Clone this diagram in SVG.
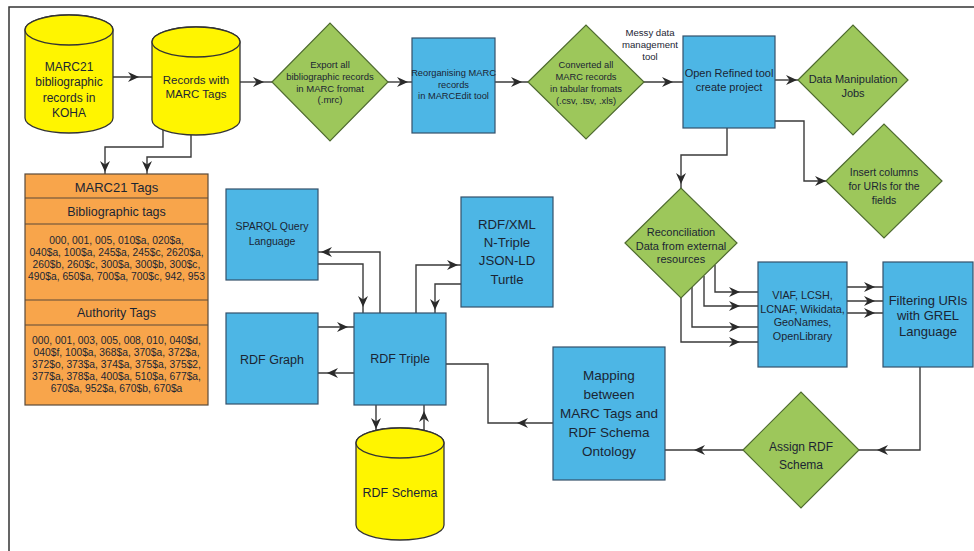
<svg xmlns="http://www.w3.org/2000/svg" xmlns:xlink="http://www.w3.org/1999/xlink" width="974" height="551" viewBox="0 0 974 551">
<style>
.blue{fill:#4DB6E5;stroke:#34506a;stroke-width:1.2}
.green{fill:#9DC75B;stroke:#4f6b30;stroke-width:1.2}
.yel{fill:#FFF500;stroke:#333;stroke-width:1.3}
.org{fill:#F8A54B;stroke:#5a4a3a;stroke-width:1.2}
.div{stroke:#5a4a3a;stroke-width:1.2;fill:none}
text{font-family:"Liberation Sans",Arial,sans-serif;fill:#1b2533;text-anchor:middle}
#connectors path{fill:none;stroke:#3a3a3a;stroke-width:1.4}
</style>
<defs>
<path id="ah" d="M0,0 L-11,-5 L-7.5,0 L-11,5 Z" fill="#2a2a2a"/>
</defs>
<rect x="0" y="0" width="974" height="551" fill="#fff"/>
<path d="M9,551 V7 H974" fill="none" stroke="#333" stroke-width="1.5"/>

<g id="connectors">
<path d="M113,77 H152"/>
<path d="M240,82 H272"/>
<path d="M388,82 H412"/>
<path d="M495,82 H528"/>
<path d="M643,82 H683"/>
<path d="M775,80 H798"/>
<path d="M775,121 H804 V181 H827"/>
<path d="M727,128 V155 H681 V189"/>
<path d="M715,265 V292 H758"/>
<path d="M704,276 V306 H758"/>
<path d="M692,287 V327 H758"/>
<path d="M681,298 V342 H758"/>
<path d="M847,287 H883"/>
<path d="M847,301 H883"/>
<path d="M847,313 H883"/>
<path d="M920,367 V450 H859"/>
<path d="M743,450 H665"/>
<path d="M553,423 H488 V364 H446"/>
<path d="M376,405 V430"/>
<path d="M424,431 V405"/>
<path d="M380,313 V252 H318"/>
<path d="M318,264 H363 V313"/>
<path d="M318,327 H354"/>
<path d="M354,373 H318"/>
<path d="M416,313 V265 H461"/>
<path d="M461,284 H435 V313"/>
<path d="M163,130 V147 H105 V174"/>
<path d="M191,135 V157 H147 V174"/>
<use href="#ah" transform="translate(139,77)"/>
<use href="#ah" transform="translate(264,82)"/>
<use href="#ah" transform="translate(408,82)"/>
<use href="#ah" transform="translate(522,82)"/>
<use href="#ah" transform="translate(673,82)"/>
<use href="#ah" transform="translate(797,80)"/>
<use href="#ah" transform="translate(826,181)"/>
<use href="#ah" transform="translate(681,184) rotate(90)"/>
<use href="#ah" transform="translate(740,292)"/>
<use href="#ah" transform="translate(740,306)"/>
<use href="#ah" transform="translate(740,327)"/>
<use href="#ah" transform="translate(740,342)"/>
<use href="#ah" transform="translate(875,287)"/>
<use href="#ah" transform="translate(875,301)"/>
<use href="#ah" transform="translate(875,313)"/>
<use href="#ah" transform="translate(877,450) rotate(180)"/>
<use href="#ah" transform="translate(694,450) rotate(180)"/>
<use href="#ah" transform="translate(517,423) rotate(180)"/>
<use href="#ah" transform="translate(376,429) rotate(90)"/>
<use href="#ah" transform="translate(424,411) rotate(-90)"/>
<use href="#ah" transform="translate(321,252) rotate(180)"/>
<use href="#ah" transform="translate(363,307) rotate(90)"/>
<use href="#ah" transform="translate(348,327)"/>
<use href="#ah" transform="translate(327,373) rotate(180)"/>
<use href="#ah" transform="translate(458,265)"/>
<use href="#ah" transform="translate(435,310) rotate(90)"/>
<use href="#ah" transform="translate(105,172) rotate(90)"/>
<use href="#ah" transform="translate(147,172) rotate(90)"/>
</g>

<g id="koha">
<path class="yel" d="M25,30 A44,15 0 0 1 113,30 V118 A44,15 0 0 1 25,118 Z"/>
<ellipse class="yel" cx="69" cy="30" rx="44" ry="15"/>
<text font-size="12"><tspan x="69" y="71">MARC21</tspan><tspan x="69" y="86.3">bibliographic</tspan><tspan x="69" y="101.6">records in</tspan><tspan x="69" y="117">KOHA</tspan></text>
</g>

<g id="records">
<path class="yel" d="M152,42 A44,15 0 0 1 240,42 V120 A44,15 0 0 1 152,120 Z"/>
<ellipse class="yel" cx="196" cy="42" rx="44" ry="15"/>
<text font-size="11.5"><tspan x="196" y="84">Records with</tspan><tspan x="196" y="98">MARC Tags</tspan></text>
</g>

<g id="export">
<polygon class="green" points="272,82 330,23 388,82 330,141"/>
<text font-size="9.5"><tspan x="330" y="68.3">Export all</tspan><tspan x="330" y="80">bibliographic records</tspan><tspan x="330" y="91.5">in MARC fromat</tspan><tspan x="330" y="103.3">(.mrc)</tspan></text>
</g>

<g id="marcedit">
<rect class="blue" x="412" y="38" width="83" height="95"/>
<text font-size="9.3"><tspan x="453.5" y="76.3">Reorganising MARC</tspan><tspan x="453.5" y="87.8">records</tspan><tspan x="453.5" y="99.3">in MARCEdit tool</tspan></text>
</g>

<g id="converted">
<polygon class="green" points="528,82 586,25 644,82 586,139"/>
<text font-size="9.3"><tspan x="586" y="67.5">Converted all</tspan><tspan x="586" y="79.5">MARC  records</tspan><tspan x="586" y="91.5">in tabular fromats</tspan><tspan x="586" y="103.5">(.csv, .tsv, .xls)</tspan></text>
</g>

<g id="messy">
<text font-size="9.6"><tspan x="650" y="36.3">Messy data</tspan><tspan x="650" y="48.3">management</tspan><tspan x="650" y="60.3">tool</tspan></text>
</g>

<g id="openrefine">
<rect class="blue" x="683" y="36" width="92" height="92"/>
<text font-size="11"><tspan x="729" y="77">Open Refined tool</tspan><tspan x="729" y="91">create project</tspan></text>
</g>

<g id="manipulation">
<polygon class="green" points="798,80 853,25 908,80 853,135"/>
<text font-size="11"><tspan x="853" y="83">Data Manipulation</tspan><tspan x="853" y="97">Jobs</tspan></text>
</g>

<g id="insert">
<polygon class="green" points="826,181 884,124 942,181 884,238"/>
<text font-size="10.5"><tspan x="884" y="176">Insert columns</tspan><tspan x="884" y="190">for URIs for the</tspan><tspan x="884" y="204">fields</tspan></text>
</g>

<g id="reconciliation">
<polygon class="green" points="625,243 681,188 737,243 681,298"/>
<text font-size="11"><tspan x="681" y="236">Reconciliation</tspan><tspan x="681" y="250">Data from external</tspan><tspan x="681" y="263">resources</tspan></text>
</g>

<g id="viaf">
<rect class="blue" x="758" y="262" width="89" height="105"/>
<text font-size="10.8"><tspan x="802.5" y="298.8">VIAF, LCSH,</tspan><tspan x="802.5" y="312.6">LCNAF, Wikidata,</tspan><tspan x="802.5" y="326.4">GeoNames,</tspan><tspan x="802.5" y="340.2">OpenLibrary</tspan></text>
</g>

<g id="filtering">
<rect class="blue" x="883" y="262" width="90" height="105"/>
<text font-size="13"><tspan x="928" y="304.5">Filtering URIs</tspan><tspan x="928" y="320">with GREL</tspan><tspan x="928" y="335.5">Language</tspan></text>
</g>

<g id="assign">
<polygon class="green" points="743,450 801,392 859,450 801,508"/>
<text font-size="12"><tspan x="801" y="451.2">Assign RDF</tspan><tspan x="801" y="469.2">Schema</tspan></text>
</g>

<g id="mapping">
<rect class="blue" x="553" y="347" width="112" height="133"/>
<text font-size="13.5"><tspan x="609" y="379.7">Mapping</tspan><tspan x="609" y="398.7">between</tspan><tspan x="609" y="417.7">MARC Tags and</tspan><tspan x="609" y="436.7">RDF Schema</tspan><tspan x="609" y="455.7">Ontology</tspan></text>
</g>

<g id="sparql">
<rect class="blue" x="226" y="189" width="92" height="91"/>
<text font-size="10.5"><tspan x="272" y="229.7">SPARQL Query</tspan><tspan x="272" y="244.7">Language</tspan></text>
</g>

<g id="rdfgraph">
<rect class="blue" x="226" y="313" width="92" height="91"/>
<text font-size="12.5" x="272" y="364.4">RDF Graph</text>
</g>

<g id="rdftriple">
<rect class="blue" x="354" y="313" width="92" height="92"/>
<text font-size="12.5" x="400" y="363.4">RDF Triple</text>
</g>

<g id="rdfxml">
<rect class="blue" x="461" y="197" width="92" height="110"/>
<text font-size="13.2"><tspan x="507" y="228.6">RDF/XML</tspan><tspan x="507" y="247">N-Triple</tspan><tspan x="507" y="265.3">JSON-LD</tspan><tspan x="507" y="283.6">Turtle</tspan></text>
</g>

<g id="rdfschema">
<path class="yel" d="M356,443 A44,15 0 0 1 444,443 V525 A44,15 0 0 1 356,525 Z"/>
<ellipse class="yel" cx="400" cy="443" rx="44" ry="15"/>
<text font-size="12.5" x="400" y="497.4">RDF Schema</text>
</g>

<g id="marc21tags">
<rect class="org" x="25" y="174" width="183" height="231"/>
<path class="div" d="M25,198 H208 M25,224 H208 M25,300 H208 M25,325 H208"/>
<text font-size="13" x="116.5" y="191.5">MARC21 Tags</text>
<text font-size="12.5" x="116.5" y="216.4">Bibliographic tags</text>
<text font-size="10.3"><tspan x="116.5" y="243.7">000, 001, 005, 010$a, 020$a,</tspan><tspan x="116.5" y="255.7">040$a, 100$a, 245$a, 245$c, 2620$a,</tspan><tspan x="116.5" y="267.7">260$b, 260$c, 300$a, 300$b, 300$c,</tspan><tspan x="116.5" y="279.7">490$a, 650$a, 700$a, 700$c, 942, 953</tspan></text>
<text font-size="12.5" x="116.5" y="317.4">Authority Tags</text>
<text font-size="10.3"><tspan x="116.5" y="343.7">000, 001, 003, 005, 008, 010, 040$d,</tspan><tspan x="116.5" y="355.7">040$f, 100$a, 368$a, 370$a, 372$a,</tspan><tspan x="116.5" y="367.7">372$o, 373$a, 374$a, 375$a, 375$2,</tspan><tspan x="116.5" y="379.7">377$a, 378$a, 400$a, 510$a, 677$a,</tspan><tspan x="116.5" y="391.7">670$a, 952$a, 670$b, 670$a</tspan></text>
</g>
</svg>
